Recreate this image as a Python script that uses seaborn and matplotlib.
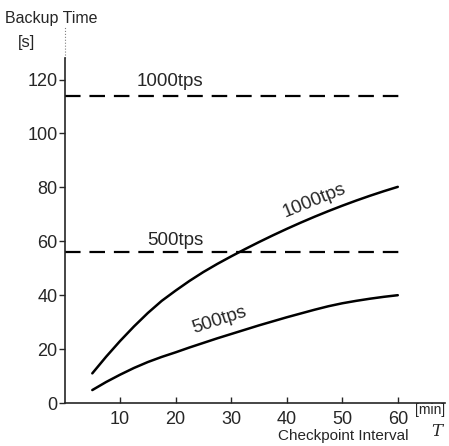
import matplotlib
matplotlib.use("Agg")
import matplotlib.pyplot as plt
import seaborn as sns
import pandas as pd

# Data
interval = [5, 7.5, 10, 12.5, 15, 17.5, 20, 22.5, 25, 27.5, 30, 32.5,
            35, 37.5, 40, 42.5, 45, 47.5, 50, 52.5, 55, 57.5, 60]
backup_1000 = [11, 17.2, 23.0, 28.4, 33.4, 37.9, 41.7, 45.3, 48.6, 51.6, 54.4, 57.1,
               59.7, 62.2, 64.6, 66.9, 69.1, 71.2, 73.2, 75.1, 76.9, 78.6, 80.2]
backup_500 = [4.8, 7.8, 10.5, 13.0, 15.2, 17.1, 18.8, 20.6, 22.3, 24.0, 25.6, 27.2,
              28.8, 30.3, 31.8, 33.2, 34.6, 35.9, 37.0, 37.9, 38.7, 39.4, 40.0]
full_x = [0, 60.5]
full_1000 = [114, 114]
full_500 = [56, 56]
y_ticks = [0, 20, 40, 60, 80, 100, 120]
x_ticks = [10, 20, 30, 40, 50, 60]

sns.set_style("ticks")
plt.rcParams['font.family'] = ['Liberation Sans', 'DejaVu Sans']

fig = plt.figure(figsize=(4.49, 4.46), dpi=100)
ax = fig.add_axes([0.1437, 0.0964, 0.8474, 0.7735])

curves = pd.DataFrame({"T": interval + interval,
                       "B": backup_1000 + backup_500,
                       "s": ["1000"] * len(interval) + ["500"] * len(interval)})
full = pd.DataFrame({"T": full_x + full_x,
                     "B": full_1000 + full_500,
                     "s": ["1000", "1000", "500", "500"]})

sns.lineplot(data=curves, x="T", y="B", units="s", estimator=None,
             color="black", lw=1.8, ax=ax, legend=False)
sns.lineplot(data=full, x="T", y="B", units="s", estimator=None,
             color="black", lw=1.6, ax=ax, legend=False, dashes=False,
             linestyle=(0, (7, 4)))

ax.set_xlim(0, 68.5)
ax.set_ylim(0, 128)
ax.set_xticks(x_ticks)
ax.set_yticks(y_ticks)
ax.tick_params(axis="x", direction="in", length=4, width=1, labelsize=13, pad=6)
ax.tick_params(axis="y", direction="out", length=4, width=1, labelsize=13, pad=1)
sns.despine(ax=ax)
for sp in ax.spines.values():
    sp.set_linewidth(1.2)
ax.set_xlabel("")
ax.set_ylabel("")
# faint dotted continuation of the y axis above the top
ax.plot([0, 0], [128, 140], color="gray", lw=0.8, ls=":", clip_on=False)

ax.text(13, 117.5, "1000tps", fontsize=13.5, ha="left", va="baseline")
ax.text(14.9, 58.8, "500tps", fontsize=13.5, ha="left", va="baseline")
ax.text(45.0, 75.0, "1000tps", fontsize=13.5, ha="center", va="center",
        rotation=22, rotation_mode="anchor")
ax.text(27.8, 30.6, "500tps", fontsize=13.5, ha="center", va="center",
        rotation=18, rotation_mode="anchor")

fig.text(5 / 449, 1 - 18 / 446, "Backup Time", fontsize=11.5, ha="left", va="center")
fig.text(18 / 449, 1 - 43 / 446, "[s]", fontsize=12, ha="left", va="center")
fig.text(343 / 449, 1 - 436 / 446, "Checkpoint Interval", fontsize=11, ha="center", va="center")
fig.text(430 / 449, 1 - 410 / 446, "[min]", fontsize=10, ha="center", va="center")
fig.text(437 / 449, 1 - 431 / 446, "T", fontsize=12, ha="center", va="center",
         family="DejaVu Serif", style="italic")

fig.savefig("out.png", dpi=100)
